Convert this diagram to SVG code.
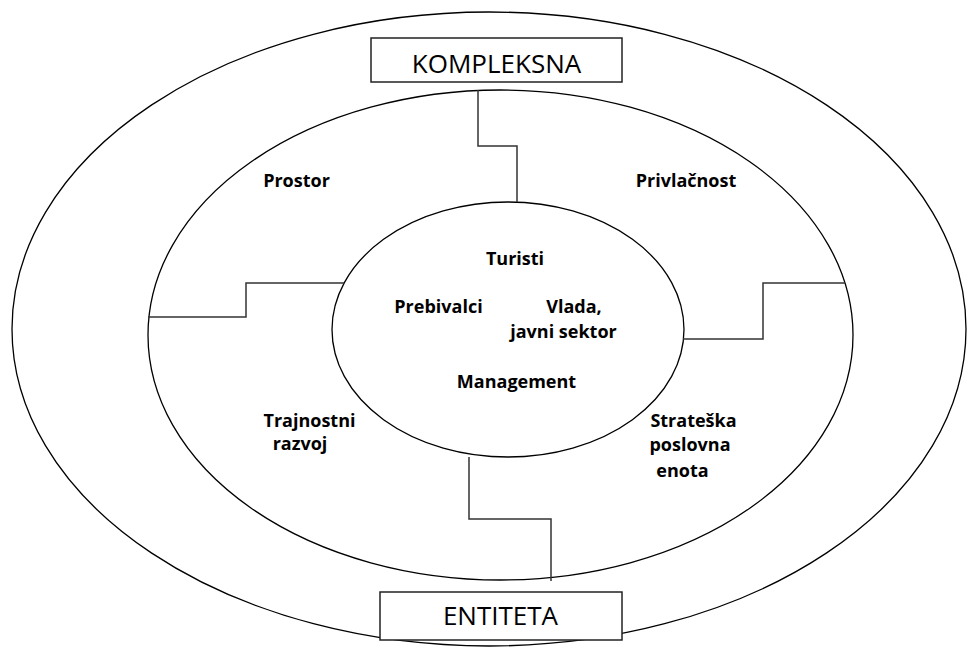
<svg xmlns="http://www.w3.org/2000/svg" width="968" height="648" viewBox="0 0 968 648">
  <style>
    .ring { fill: none; stroke: #000; stroke-width: 1.3; }
    .box { fill: #fff; stroke: #222; stroke-width: 1.5; }
    .link { fill: none; stroke: #333; stroke-width: 1.5; }
    .title { font-family: "Open Sans", "Liberation Sans", sans-serif; font-size: 26px; fill: #000; text-anchor: middle; }
    .label { font-family: "Open Sans", "Liberation Sans", sans-serif; font-size: 18px; font-weight: 700; fill: #000; text-anchor: middle; }
  </style>
  <rect width="968" height="648" fill="#fff"/>

  <!-- concentric rings -->
  <g id="outer-ring">
    <ellipse class="ring" cx="489" cy="329" rx="477" ry="317"/>
  </g>
  <g id="middle-ring">
    <ellipse class="ring" cx="500.5" cy="335" rx="352.5" ry="245"/>
    <text class="label" x="296.5" y="187">Prostor</text>
    <text class="label" x="686" y="187">Privlačnost</text>
    <text class="label" x="309.5" y="427">Trajnostni</text>
    <text class="label" x="300" y="450">razvoj</text>
    <text class="label" x="693.5" y="427">Strateška</text>
    <text class="label" x="690" y="451">poslovna</text>
    <text class="label" x="682.5" y="477">enota</text>
  </g>
  <g id="inner-ring">
    <ellipse class="ring" cx="508" cy="329.5" rx="176" ry="127.5"/>
    <text class="label" x="515" y="265">Turisti</text>
    <text class="label" x="438.5" y="313">Prebivalci</text>
    <text class="label" x="574" y="313">Vlada,</text>
    <text class="label" x="563.5" y="338">javni sektor</text>
    <text class="label" x="516.5" y="388">Management</text>
  </g>

  <!-- stepped connectors between the rings -->
  <g id="connectors">
    <polyline class="link" points="478,90 478,146 517,146 517,202"/>
    <polyline class="link" points="148,317 246,317 246,283 344,283"/>
    <polyline class="link" points="683,339 763,339 763,283 845,283"/>
    <polyline class="link" points="469,457 469,519 551,519 551,581"/>
  </g>

  <g id="kompleksna">
    <rect class="box" x="371" y="38" width="251" height="44"/>
    <text class="title" x="496.5" y="73">KOMPLEKSNA</text>
  </g>
  <g id="entiteta">
    <rect class="box" x="380" y="592" width="242" height="48"/>
    <text class="title" x="500.5" y="625">ENTITETA</text>
  </g>
</svg>
